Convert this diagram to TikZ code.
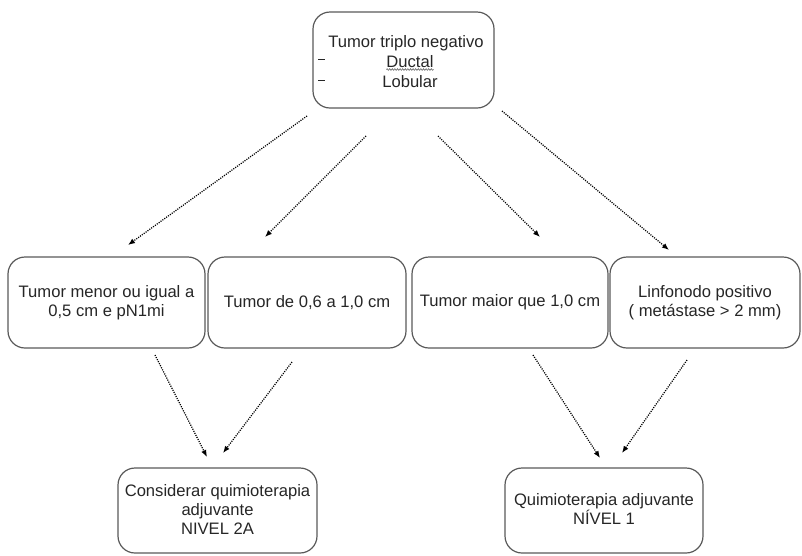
\documentclass[tikz,border=0pt]{standalone}
\usepackage{fontspec}
\setmainfont{Liberation Sans}
\usetikzlibrary{arrows.meta,decorations.pathmorphing}
\tikzset{
  box/.style={draw=black!65, line width=1.2pt, rounded corners=17pt, inner sep=0pt, align=center, text=black!85,
              font=\fontsize{16.6}{19}\selectfont},
  txt/.style={inner sep=0pt, text=black!85, font=\fontsize{16.6}{19}\selectfont},
  conn/.style={line width=1.25pt, dash pattern=on 1.1pt off 1.2pt, -{Latex[length=7pt,width=5.5pt]}},
}
\begin{document}
\begin{tikzpicture}[x=1pt,y=-1pt]
\useasboundingbox (0,0) rectangle (802,555);
% top box
\node[box, minimum width=181pt, minimum height=96pt] (top) at (403.5,60) {};
\node[txt, anchor=base] (t1) at (406,47) {Tumor triplo negativo};
\node[txt, anchor=base] (t2) at (410,67) {Ductal};
\node[txt, anchor=base] (t3) at (410,87) {Lobular};
\node[txt] (d1) at (321.5,59.5) {\rule{6.5pt}{1.8pt}};
\node[txt] (d2) at (321.5,80.5) {\rule{6.5pt}{1.8pt}};
\draw[black!55, line width=0.7pt, decorate, decoration={snake,amplitude=0.8pt,segment length=2.6pt}]
  ([yshift=-2.5pt]t2.base west) -- ([yshift=-2.5pt]t2.base east);
% middle row
\node[box, minimum width=197pt, minimum height=91pt] (r1) at (106.5,302.5) {Tumor menor ou igual a\\0,5 cm e pN1mi};
\node[box, minimum width=198pt, minimum height=91pt] (r2) at (307,302.5) {Tumor de 0,6 a 1,0 cm};
\node[box, minimum width=196pt, minimum height=91pt] (r3) at (510,302.5) {Tumor maior que 1,0 cm};
\node[box, minimum width=190pt, minimum height=91pt] (r4) at (705,302.5) {Linfonodo positivo\\( metástase > 2 mm)};
% bottom row
\node[box, minimum width=199pt, minimum height=85pt] (b1) at (217.5,510.5) {\\[-10pt]Considerar quimioterapia\\adjuvante\\NIVEL 2A};
\node[box, minimum width=198pt, minimum height=85pt] (b2) at (604,510.5) {\\[-10pt]Quimioterapia adjuvante\\NÍVEL 1};
% connector end points
\coordinate (a1s) at (307,116); \coordinate (a1e) at (128,245);
\coordinate (a2s) at (366,136); \coordinate (a2e) at (265,237);
\coordinate (a3s) at (438,136); \coordinate (a3e) at (540,237);
\coordinate (a4s) at (502,111); \coordinate (a4e) at (669,250);
\coordinate (a5s) at (155,355); \coordinate (a5e) at (207,457);
\coordinate (a6s) at (292,362); \coordinate (a6e) at (223,453);
\coordinate (a7s) at (533,355); \coordinate (a7e) at (600,458);
\coordinate (a8s) at (687,360); \coordinate (a8e) at (622,453);
\draw[conn] (a1s) -- (a1e);
\draw[conn] (a2s) -- (a2e);
\draw[conn] (a3s) -- (a3e);
\draw[conn] (a4s) -- (a4e);
\draw[conn] (a5s) -- (a5e);
\draw[conn] (a6s) -- (a6e);
\draw[conn] (a7s) -- (a7e);
\draw[conn] (a8s) -- (a8e);
\end{tikzpicture}
\end{document}
